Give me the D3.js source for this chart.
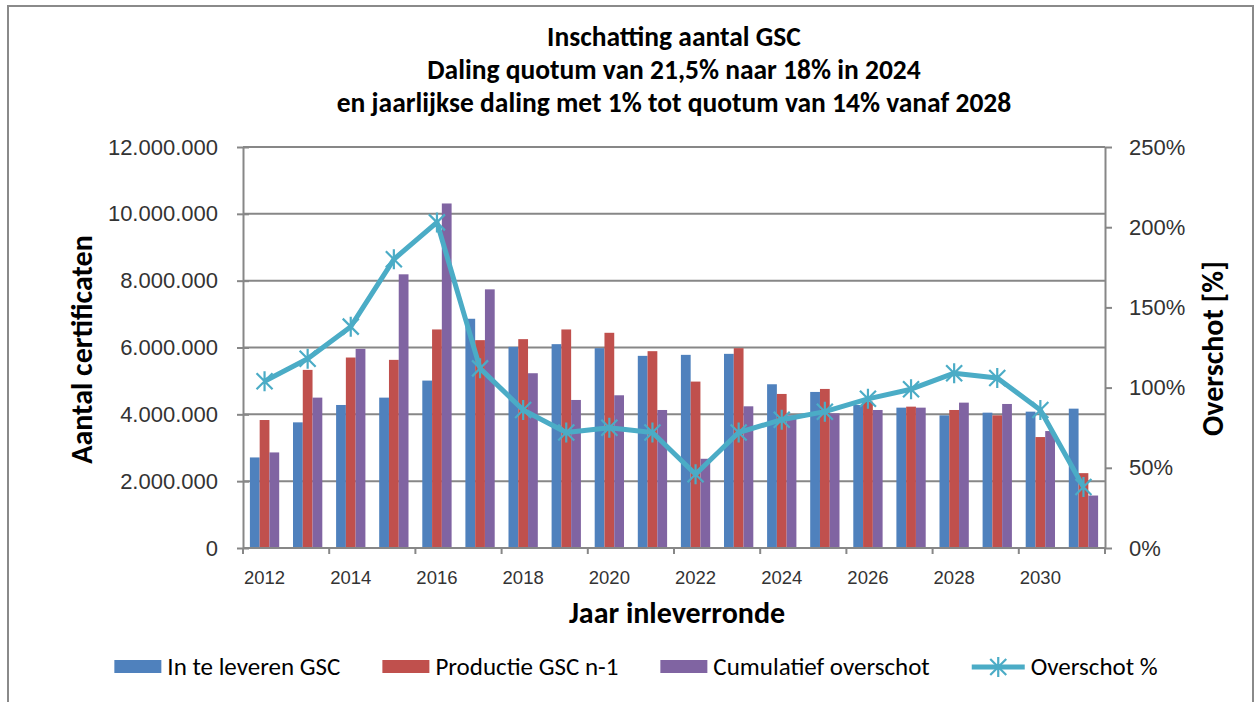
<!DOCTYPE html>
<html>
<head>
<meta charset="utf-8">
<script src="https://cdn.jsdelivr.net/npm/d3@7"></script>
<style>
  body { margin: 0; background: #fff; }
  svg { display: block; font-family: Carlito, Lato, "Open Sans", sans-serif; }
</style>
</head>
<body>
<div id="chart"></div>
<script>
// data
var years = [2012, 2013, 2014, 2015, 2016, 2017, 2018, 2019, 2020, 2021,
             2022, 2023, 2024, 2025, 2026, 2027, 2028, 2029, 2030, 2031];
var inTeLeveren = [2710000, 3760000, 4280000, 4500000, 5010000, 6860000, 6020000, 6100000, 5980000, 5750000,
                   5780000, 5810000, 4900000, 4670000, 4280000, 4200000, 3970000, 4050000, 4080000, 4170000];
var productie = [3830000, 5330000, 5700000, 5630000, 6540000, 6220000, 6250000, 6540000, 6440000, 5890000,
                 4980000, 5980000, 4610000, 4760000, 4380000, 4230000, 4130000, 3970000, 3320000, 2240000];
var cumulatief = [2860000, 4500000, 5960000, 8190000, 10310000, 7740000, 5230000, 4430000, 4570000, 4130000,
                  2670000, 4240000, 3970000, 4030000, 4130000, 4200000, 4350000, 4310000, 3500000, 1570000];
var overschot = [104, 118, 138, 180, 203, 112, 86, 72, 75, 72,
                 46, 72, 80, 85, 93, 99, 109, 106, 86, 38];
var leftTicks = [0, 2000000, 4000000, 6000000, 8000000, 10000000, 12000000];
var rightTicks = [0, 50, 100, 150, 200, 250];
var titleLines = ["Inschatting aantal GSC",
                  "Daling quotum van 21,5% naar 18% in 2024",
                  "en jaarlijkse daling met 1% tot quotum van 14% vanaf 2028"];
var seriesNames = ["In te leveren GSC", "Productie GSC n-1", "Cumulatief overschot", "Overschot %"];
var barColors = ["#4F81BD", "#C0504D", "#8064A2"];
var lineColor = "#4BACC6";

var svgWidth = 1258, svgHeight = 702;
var plot = { left: 243, right: 1105, top: 147, bottom: 548 };
var gridColor = "#878787";
var textColor = "#333";

var svg = d3.select("#chart").append("svg")
    .attr("width", svgWidth)
    .attr("height", svgHeight);

// chart frame
svg.append("rect")
    .attr("x", 8).attr("y", 6)
    .attr("width", 1245).attr("height", 720)
    .attr("fill", "#fff")
    .attr("stroke", "#8a8a8a")
    .attr("stroke-width", 2);

// title
svg.append("g").selectAll("text")
    .data(titleLines)
    .enter().append("text")
    .attr("x", 674)
    .attr("y", (d, i) => 46 + i * 33)
    .attr("text-anchor", "middle")
    .style("font-size", "27.5px")
    .style("font-weight", "bold")
    .attr("fill", "#000")
    .text(d => d);

// scales
var x = d3.scaleBand()
    .domain(years)
    .range([plot.left, plot.right])
    .paddingInner(0.32)
    .paddingOuter(0.16);
var xInner = d3.scaleBand()
    .domain([0, 1, 2])
    .range([0, x.bandwidth()]);
var yLeft = d3.scaleLinear().domain([0, 12000000]).range([plot.bottom, plot.top]);
var yRight = d3.scaleLinear().domain([0, 250]).range([plot.bottom, plot.top]);

var fmtDots = d => d3.format(",")(d).replace(/,/g, ".");

// gridlines
svg.append("g").selectAll("line")
    .data(leftTicks.slice(1))
    .enter().append("line")
    .attr("x1", plot.left).attr("x2", plot.right)
    .attr("y1", d => yLeft(d)).attr("y2", d => yLeft(d))
    .attr("stroke", gridColor)
    .attr("stroke-width", 2);

// bars
var series = [inTeLeveren, productie, cumulatief];
series.forEach((vals, s) => {
    svg.append("g").selectAll("rect")
        .data(vals)
        .enter().append("rect")
        .attr("x", (d, i) => x(years[i]) + xInner(s))
        .attr("y", d => yLeft(d))
        .attr("width", xInner.bandwidth())
        .attr("height", d => plot.bottom - yLeft(d))
        .attr("fill", barColors[s]);
});

// left axis
var leftAxis = svg.append("g")
    .attr("transform", `translate(${plot.left},0)`)
    .call(d3.axisLeft(yLeft).tickValues(leftTicks).tickFormat(fmtDots).tickSizeInner(6).tickSizeOuter(0).tickPadding(19));
leftAxis.selectAll(".tick line").attr("x2", 12).attr("transform", "translate(-6,0)");
// x axis
var bottomAxis = svg.append("g")
    .attr("transform", `translate(0,${plot.bottom})`)
    .call(d3.axisBottom(x).tickValues(years.filter((d, i) => i % 2 == 0)).tickSize(0).tickPadding(23));
bottomAxis.selectAll(".tick line").remove();
// x ticks every two groups, on the group boundaries
svg.append("g").selectAll("line")
    .data(d3.range(0, years.length + 1, 2))
    .enter().append("line")
    .attr("x1", i => plot.left + i * x.step()).attr("x2", i => plot.left + i * x.step())
    .attr("y1", plot.bottom).attr("y2", plot.bottom + 6)
    .attr("stroke", gridColor).attr("stroke-width", 2);
// right axis
var rightAxis = svg.append("g")
    .attr("transform", `translate(${plot.right},0)`)
    .call(d3.axisRight(yRight).tickValues(rightTicks).tickFormat(d => d + "%").tickSize(7).tickSizeOuter(0).tickPadding(17));

[leftAxis, bottomAxis, rightAxis].forEach(a => {
    a.select(".domain").attr("stroke", gridColor).attr("stroke-width", 2);
    a.selectAll(".tick line").attr("stroke", gridColor).attr("stroke-width", 2);
    a.selectAll(".tick text").attr("fill", textColor).style("font-family", null);
});
leftAxis.selectAll(".tick text").style("font-size", "22px");
rightAxis.selectAll(".tick text").style("font-size", "22px");
bottomAxis.selectAll(".tick text").style("font-size", "18.5px");
bottomAxis.select(".domain").attr("d", `M${plot.left},0H${plot.right}`);

// overschot line
var lineGen = d3.line()
    .x((d, i) => x(years[i]) + x.bandwidth() / 2)
    .y(d => yRight(d));
svg.append("path")
    .datum(overschot)
    .attr("d", lineGen)
    .attr("fill", "none")
    .attr("stroke", lineColor)
    .attr("stroke-width", 5)
    .attr("stroke-linejoin", "round");

var starPath = "M-8,-8L8,8M-8,8L8,-8M0,-10L0,10";
svg.append("g").selectAll("path")
    .data(overschot)
    .enter().append("path")
    .attr("transform", (d, i) => `translate(${x(years[i]) + x.bandwidth() / 2},${yRight(d)})`)
    .attr("d", starPath)
    .attr("stroke", lineColor)
    .attr("stroke-width", 2.2)
    .attr("fill", "none");

// axis titles
svg.append("text")
    .attr("transform", `translate(92,${(plot.top + plot.bottom) / 2 + 2}) rotate(-90)`)
    .attr("text-anchor", "middle")
    .style("font-size", "30px").style("font-weight", "bold")
    .attr("fill", "#000")
    .text("Aantal certificaten");
svg.append("text")
    .attr("transform", `translate(1223,${(plot.top + plot.bottom) / 2 + 1}) rotate(-90)`)
    .attr("text-anchor", "middle")
    .style("font-size", "30px").style("font-weight", "bold")
    .attr("fill", "#000")
    .text("Overschot [%]");
svg.append("text")
    .attr("x", 677)
    .attr("y", 623)
    .attr("text-anchor", "middle")
    .style("font-size", "30px").style("font-weight", "bold")
    .attr("fill", "#000")
    .text("Jaar inleverronde");

// legend, laid out from measured text widths
var legend = svg.append("g");
var items = seriesNames.map((name, i) => {
    var g = legend.append("g");
    if (i < 3) {
        g.append("rect").attr("x", 0).attr("y", -7).attr("width", 47).attr("height", 13).attr("fill", barColors[i]);
    } else {
        g.append("line").attr("x1", 0).attr("x2", 53).attr("y1", 0).attr("y2", 0)
            .attr("stroke", lineColor).attr("stroke-width", 5);
        g.append("path").attr("transform", "translate(26.5,0)").attr("d", starPath)
            .attr("stroke", lineColor).attr("stroke-width", 2.2);
    }
    var sw = i < 3 ? 47 : 53;
    var t = g.append("text").attr("x", sw + 6).attr("y", 8)
        .style("font-size", "25px").attr("fill", "#000").text(name);
    return { g: g, w: sw + 6 + t.node().getComputedTextLength() };
});
var gap = 42;
var total = d3.sum(items, d => d.w) + gap * (items.length - 1);
var cx = 636 - total / 2;
items.forEach(it => {
    it.g.attr("transform", `translate(${cx},667)`);
    cx += it.w + gap;
});
</script>
</body>
</html>
